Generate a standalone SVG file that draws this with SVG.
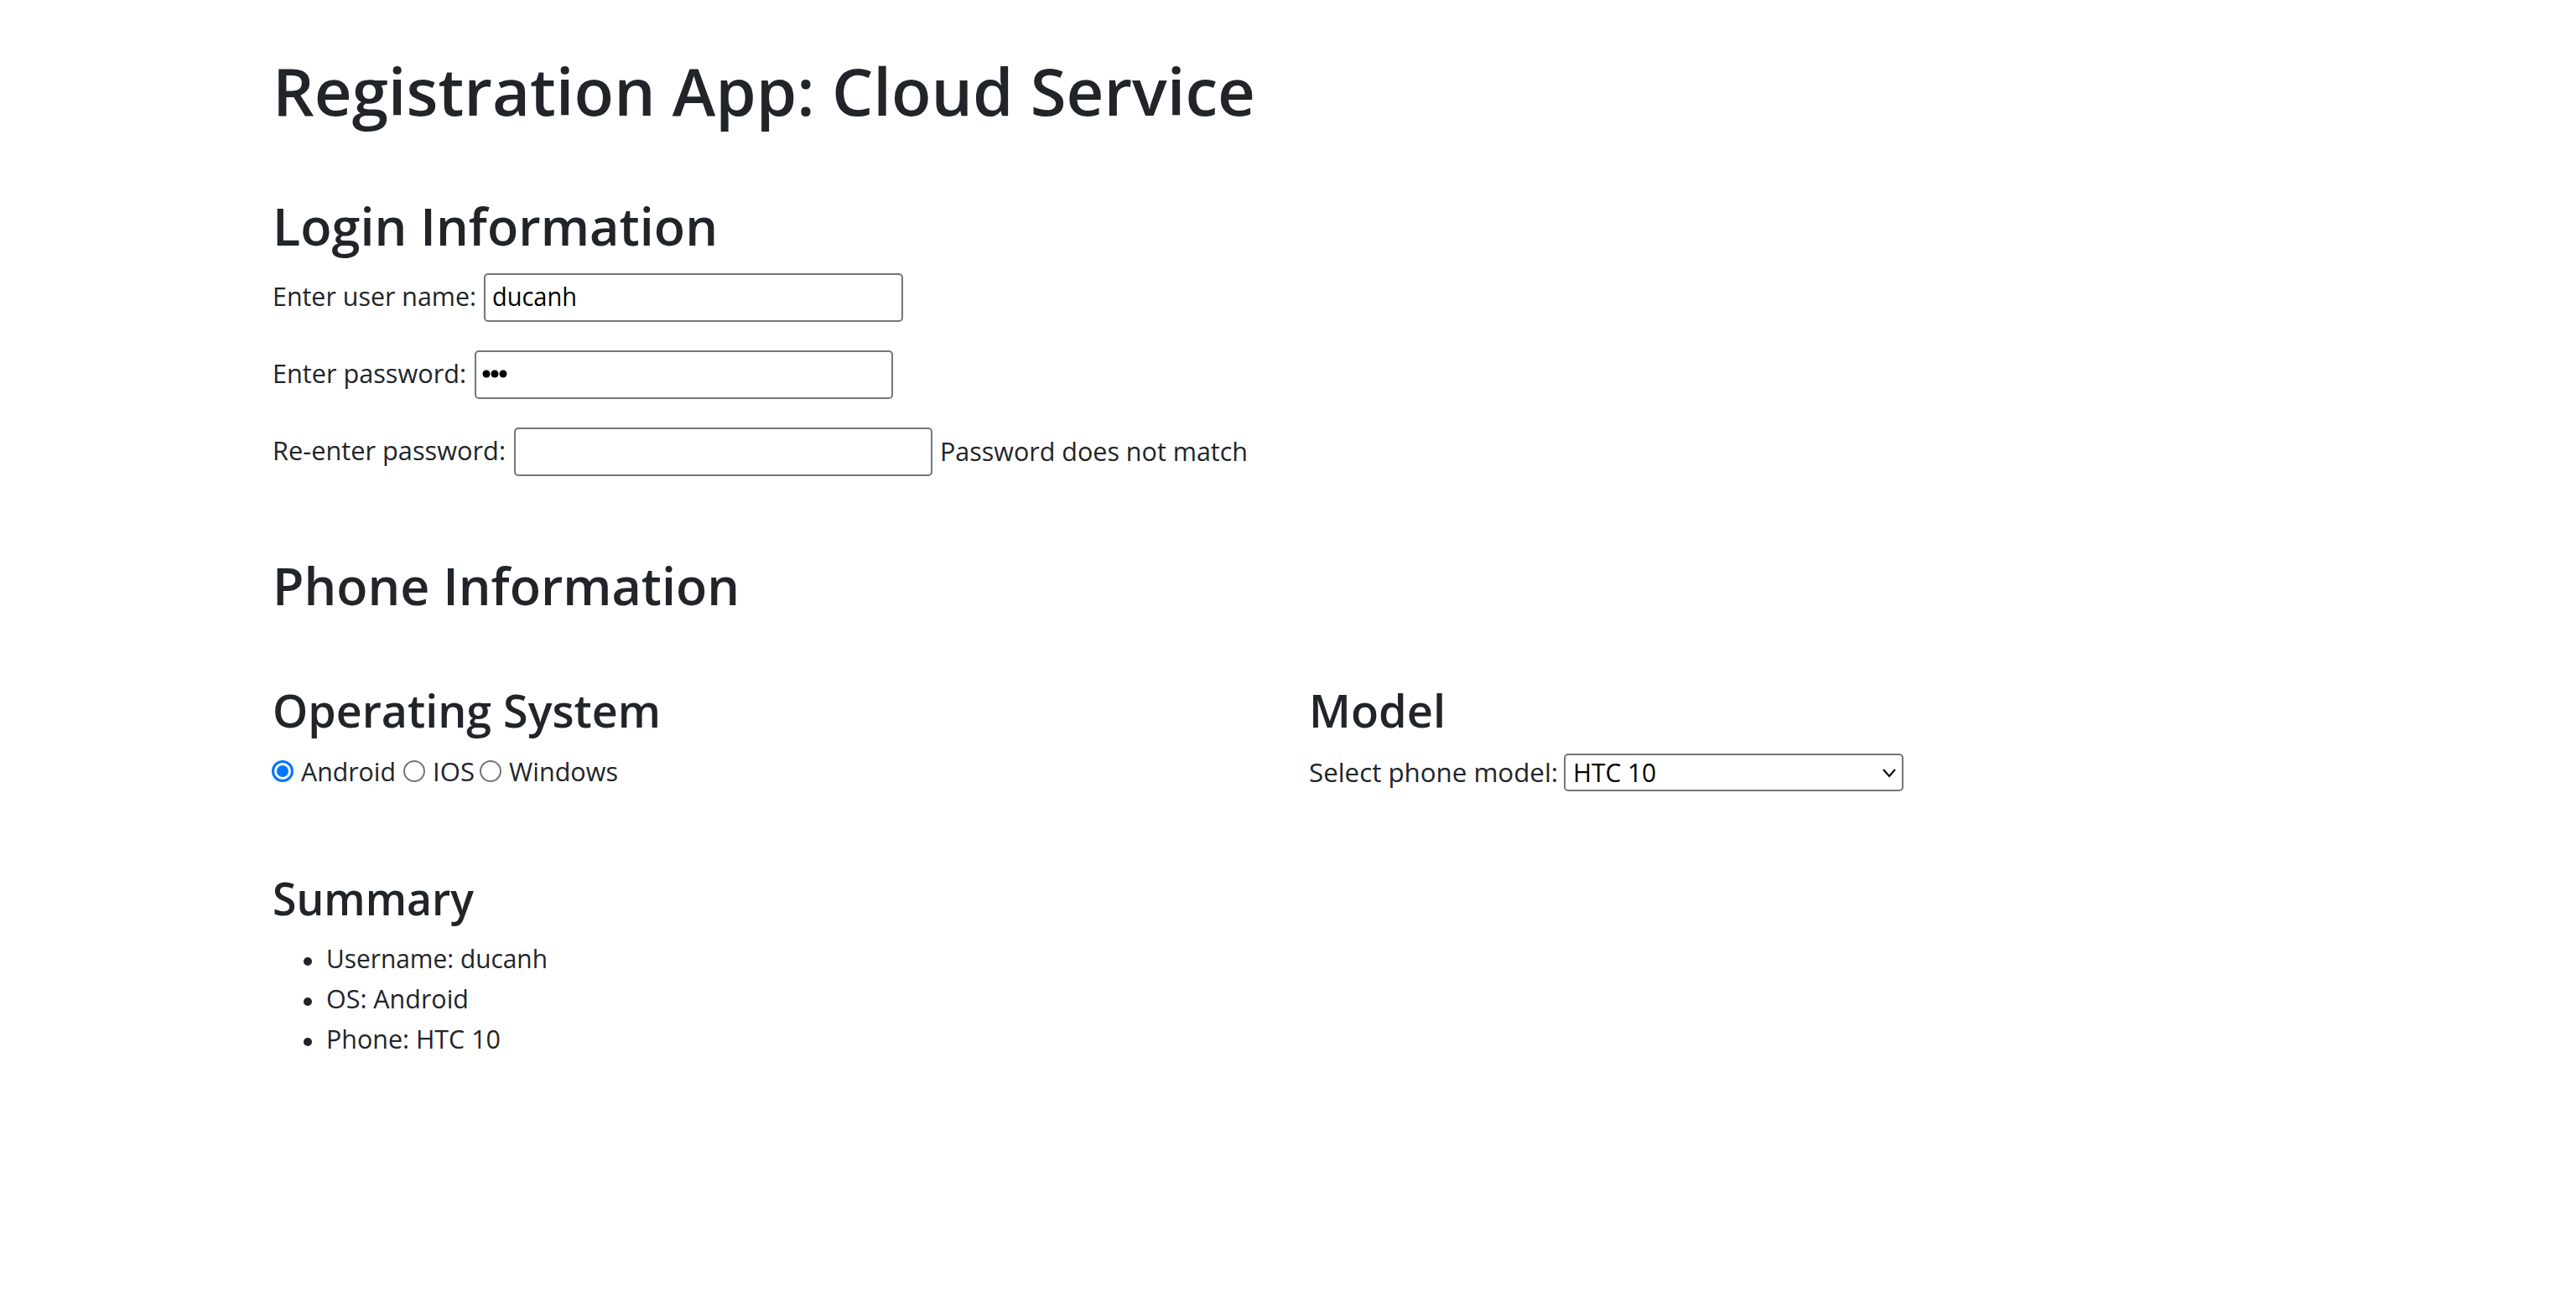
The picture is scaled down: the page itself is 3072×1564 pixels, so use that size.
<svg xmlns="http://www.w3.org/2000/svg" width="3072" height="1564" viewBox="0 0 3072 1564">
<style>
  text { font-family: "Open Sans", "Noto Sans", "DejaVu Sans", sans-serif; fill: #212529; }
  .h1 { font-size: 78px; font-weight: 600; }
  .h2 { font-size: 62px; font-weight: 600; }
  .h3 { font-size: 54px; font-weight: 600; }
  .body { font-size: 31px; font-weight: 400; }
  .inp { font-size: 31px; fill: #000; }
  .box { fill: #fff; stroke: #767676; stroke-width: 2; }
  .radio-off { fill: #fff; stroke: #767676; stroke-width: 2; }
  .radio-on { fill: #fff; stroke: #0075ff; stroke-width: 3; }
  .dot { fill: #0075ff; }
  .bullet { fill: #212529; }
</style>
<rect x="0" y="0" width="3072" height="1564" fill="#ffffff"/>

<g id="title">
  <text class="h1" x="325" y="138" textLength="1172" lengthAdjust="spacingAndGlyphs">Registration App: Cloud Service</text>
</g>

<g id="login-section">
  <text class="h2" x="325" y="293" textLength="531" lengthAdjust="spacingAndGlyphs">Login Information</text>
</g>

<g id="username-row">
  <text class="body" x="325" y="365" textLength="243" lengthAdjust="spacingAndGlyphs">Enter user name:</text>
  <rect class="box" x="578" y="327" width="498" height="56" rx="4"/>
  <text class="inp" x="587" y="365" textLength="101" lengthAdjust="spacingAndGlyphs">ducanh</text>
</g>

<g id="password-row">
  <text class="body" x="325" y="457" textLength="231" lengthAdjust="spacingAndGlyphs">Enter password:</text>
  <rect class="box" x="567" y="419" width="497" height="56" rx="4"/>
  <circle cx="580" cy="446" r="4.5" fill="#000"/>
  <circle cx="590" cy="446" r="4.5" fill="#000"/>
  <circle cx="600" cy="446" r="4.5" fill="#000"/>
</g>

<g id="reenter-row">
  <text class="body" x="325" y="549" textLength="278" lengthAdjust="spacingAndGlyphs">Re-enter password:</text>
  <rect class="box" x="614" y="511" width="497" height="56" rx="4"/>
  <text class="body" x="1121" y="550" textLength="367" lengthAdjust="spacingAndGlyphs">Password does not match</text>
</g>

<g id="phone-section">
  <text class="h2" x="325" y="722" textLength="557" lengthAdjust="spacingAndGlyphs">Phone Information</text>
</g>

<g id="os-section">
  <text class="h3" x="325" y="868" textLength="463" lengthAdjust="spacingAndGlyphs">Operating System</text>
  <circle class="radio-on" cx="337" cy="920" r="11.5"/>
  <circle class="dot" cx="337" cy="920" r="7"/>
  <text class="body" x="359" y="932" textLength="113" lengthAdjust="spacingAndGlyphs">Android</text>
  <circle class="radio-off" cx="494" cy="920" r="12"/>
  <text class="body" x="516" y="932" textLength="50" lengthAdjust="spacingAndGlyphs">IOS</text>
  <circle class="radio-off" cx="585" cy="920" r="12"/>
  <text class="body" x="607" y="932" textLength="130" lengthAdjust="spacingAndGlyphs">Windows</text>
</g>

<g id="model-section">
  <text class="h3" x="1561" y="868" textLength="163" lengthAdjust="spacingAndGlyphs">Model</text>
  <text class="body" x="1561" y="933" textLength="297" lengthAdjust="spacingAndGlyphs">Select phone model:</text>
  <rect class="box" x="1866" y="900" width="403" height="43" rx="4"/>
  <text class="inp" x="1876" y="933" textLength="99" lengthAdjust="spacingAndGlyphs">HTC 10</text>
  <path d="M2246 918 L2253 926 L2260 918" fill="none" stroke="#000" stroke-width="2"/>
</g>

<g id="summary-section">
  <text class="h3" x="325" y="1092" textLength="240" lengthAdjust="spacingAndGlyphs">Summary</text>
  <circle class="bullet" cx="367" cy="1147" r="5"/>
  <text class="body" x="389" y="1155" textLength="264" lengthAdjust="spacingAndGlyphs">Username: ducanh</text>
  <circle class="bullet" cx="367" cy="1195" r="5"/>
  <text class="body" x="389" y="1203" textLength="170" lengthAdjust="spacingAndGlyphs">OS: Android</text>
  <circle class="bullet" cx="367" cy="1243" r="5"/>
  <text class="body" x="389" y="1251" textLength="208" lengthAdjust="spacingAndGlyphs">Phone: HTC 10</text>
</g>
</svg>
